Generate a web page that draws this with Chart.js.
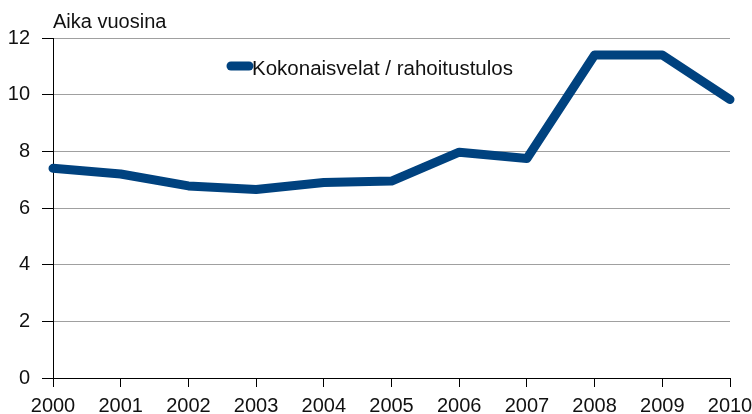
<!DOCTYPE html>
<html>
<head>
<meta charset="utf-8">
<script src="https://cdn.jsdelivr.net/npm/chart.js@4/dist/chart.umd.min.js"></script>
<style>
  html, body { margin: 0; padding: 0; background: #fff; }
  #wrap { width: 752px; height: 414px; }
</style>
</head>
<body>
<div id="wrap"><canvas id="chart" width="752" height="414"></canvas></div>
<script>
const years = ['2000', '2001', '2002', '2003', '2004', '2005', '2006', '2007', '2008', '2009', '2010'];
const velatPerTulos = [7.4, 7.2, 6.78, 6.65, 6.9, 6.95, 7.97, 7.75, 11.4, 11.4, 9.83];
const seriesName = 'Kokonaisvelat / rahoitustulos';
const unitLabel = 'Aika vuosina';

const lineColor = '#00427f';
const font = { family: '"Liberation Sans", Arial, sans-serif', size: 20 };

// legend sits inside the plot, so draw it by hand
const overlay = {
  id: 'overlay',
  afterDraw(chart) {
    const ctx = chart.ctx;
    ctx.save();
    ctx.font = font.size + 'px ' + font.family;
    ctx.fillStyle = '#111';
    ctx.textBaseline = 'alphabetic';
    ctx.textAlign = 'left';
    ctx.fillText(unitLabel, 53, 28);

    ctx.strokeStyle = lineColor;
    ctx.lineWidth = 9;
    ctx.lineCap = 'round';
    ctx.beginPath();
    ctx.moveTo(231, 66);
    ctx.lineTo(249, 66);
    ctx.stroke();
    ctx.font = '20.5px ' + font.family;
    ctx.fillText(seriesName, 252, 75);
    ctx.restore();
  }
};

new Chart(document.getElementById('chart').getContext('2d'), {
  type: 'line',
  data: {
    labels: years,
    datasets: [{
      label: seriesName,
      data: velatPerTulos,
      borderColor: lineColor,
      borderWidth: 9,
      borderCapStyle: 'round',
      borderJoinStyle: 'round',
      pointRadius: 0,
      tension: 0,
      fill: false,
      clip: false
    }]
  },
  options: {
    responsive: false,
    animation: false,
    layout: { padding: { top: 38, right: 22, left: 0, bottom: 0 } },
    scales: {
      x: {
        offset: false,
        afterFit(s) { s.height = 36; s.paddingLeft = 0; s.paddingRight = 0; },
        grid: { drawOnChartArea: false, tickLength: 9, color: '#000' },
        border: { color: '#000', width: 1 },
        ticks: { color: '#111', font, maxRotation: 0, autoSkip: false, padding: 7 }
      },
      y: {
        min: 0,
        max: 12,
        afterFit(s) { s.width = 53; s.paddingTop = 0; s.paddingBottom = 0; },
        grid: { color: '#a0a0a0', tickColor: '#000', tickLength: 11 },
        border: { color: '#000', width: 1 },
        ticks: { stepSize: 2, color: '#111', font, padding: 12 }
      }
    },
    plugins: {
      legend: { display: false },
      tooltip: { enabled: false }
    }
  },
  plugins: [overlay]
});
</script>
</body>
</html>
